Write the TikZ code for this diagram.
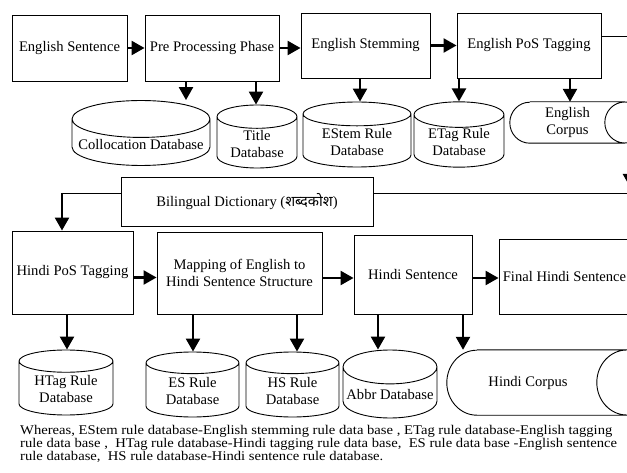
\documentclass[tikz,border=0pt]{standalone}
\usepackage{fontspec}
\setmainfont{Liberation Serif}
\newfontfamily\devfont[Script=Devanagari]{Noto Sans}
\newfontfamily\notefont[FakeStretch=1.1]{Liberation Serif}
\newcommand\notesize{\notefont\fontsize{13.3}{12.6}\selectfont\lineskiplimit=-100pt\relax}
\usetikzlibrary{arrows.meta, positioning, shapes.geometric, calc}

\begin{document}
\begin{tikzpicture}[x=1pt, y=-1pt, >={Triangle[length=13pt, width=14pt]},
    box/.style={draw, line width=0.9pt, fill=white, align=center, inner sep=2pt,
        font=\fontsize{14.6}{17}\selectfont},
    db/.style={draw, line width=0.9pt, fill=white, cylinder, shape border rotate=90,
        anchor=shape center, align=center, inner sep=1pt, font=\fontsize{14.6}{17}\selectfont},
    corpus/.style={align=center, inner sep=0pt, font=\fontsize{14.6}{17}\selectfont},
    arr/.style={->, line width=2.4pt},
    link/.style={line width=0.9pt}]
    \path[use as bounding box, clip] (0,0) rectangle (627,473);

    % English side: processing chain
    \node[box, minimum width=115pt, minimum height=66pt] (esent) at (69.5,48) {English Sentence};
    \node[box, minimum width=134pt, minimum height=66pt] (prep) at (212,48) {Pre Processing Phase};
    \node[box, minimum width=129pt, minimum height=65pt] (stem) at (365.5,45.5) {English Stemming};
    \node[box, minimum width=144pt, minimum height=65pt] (etag) at (529,45.5) {English PoS Tagging};

    % English side: databases (cylinder: width = diameter, height = length)
    \node[db, minimum width=138pt, minimum height=60pt, aspect=0.29] (coll) at (141,133) {Collocation Database};
    \node[db, minimum width=80pt, minimum height=63pt, aspect=0.42] (title) at (257,136.5) {Title\\Database};
    \node[db, minimum width=108pt, minimum height=65pt, aspect=0.33] (estemdb) at (357,134.5) {EStem Rule\\Database};
    \node[db, minimum width=90pt, minimum height=65pt, aspect=0.4] (etagdb) at (459,134.5) {ETag Rule\\Database};

    % English corpus, lying cylinder
    \node[corpus, minimum width=115pt, minimum height=41pt] (ecorp) at (567.5,122.5) {English\\Corpus};
    \draw[link] ([xshift=20pt]ecorp.north west) -- ([xshift=115pt]ecorp.north west)
        ([xshift=115pt]ecorp.west) ellipse [x radius=20pt, y radius=20.5pt]
        ([xshift=115pt]ecorp.south west) -- ([xshift=20pt]ecorp.south west)
        arc[start angle=-90, end angle=-270, x radius=20pt, y radius=20.5pt];

    % dictionary in the middle
    \node[box, minimum width=252pt, minimum height=49pt] (dict) at (247,201.5)
        {Bilingual Dictionary ({\devfont शब्दकोश})};

    % Hindi side: processing chain
    \node[box, minimum width=121pt, minimum height=83pt] (hpos) at (72.5,272.5) {Hindi PoS Tagging};
    \node[box, minimum width=165pt, minimum height=82pt] (map) at (239.5,273)
        {Mapping of English to\\Hindi Sentence Structure};
    \node[box, minimum width=118pt, minimum height=79pt] (hsent) at (413,274.5) {Hindi Sentence};
    \node[box, minimum width=131pt, minimum height=75pt] (fhs) at (564.5,276.5) {Final Hindi Sentence};

    % Hindi side: databases
    \node[db, minimum width=94pt, minimum height=65pt, aspect=0.34] (htagdb) at (66,382.5) {HTag Rule\\Database};
    \node[db, minimum width=93pt, minimum height=65pt, aspect=0.39] (esdb) at (192.5,384.5) {ES Rule\\Database};
    \node[db, minimum width=93pt, minimum height=65pt, aspect=0.39] (hsdb) at (292.5,384.5) {HS Rule\\Database};
    \node[db, minimum width=94pt, minimum height=68pt, aspect=0.38] (abbr) at (390,384) {Abbr Database};

    % Hindi corpus, lying cylinder
    \node[corpus, minimum width=162pt, minimum height=65pt] (hcorp) at (528,382.5) {Hindi Corpus};
    \draw[link] ([xshift=30pt]hcorp.north west) -- ([xshift=180pt]hcorp.north west)
        ([xshift=180pt]hcorp.west) ellipse [x radius=30pt, y radius=32.5pt]
        ([xshift=180pt]hcorp.south west) -- ([xshift=30pt]hcorp.south west)
        arc[start angle=-90, end angle=-270, x radius=30pt, y radius=32.5pt];

    % arrows of the English chain
    \draw[arr] (esent.east) -- (prep.west);
    \draw[arr] (prep.east) -- (prep.east -| stem.west);
    \draw[arr] (stem.east) -- (etag.west);
    \draw[arr] ([xshift=-26pt]prep.south) -- ([xshift=-26pt]prep.south |- coll.north);
    \draw[arr] ([xshift=44pt]prep.south) -- ([xshift=44pt]prep.south |- title.north);
    \draw[arr] ([xshift=-5.5pt]stem.south) -- ([xshift=-5.5pt]stem.south |- estemdb.north);
    \draw[arr] ([xshift=-70pt]etag.south) -- ([xshift=-70pt]etag.south |- etagdb.north);
    \draw[arr] ([xshift=41pt]etag.south) -- ([xshift=41pt]etag.south |- ecorp.north);

    % through the dictionary
    \coordinate (tout) at ([yshift=9.5pt]etag.east);
    \coordinate (rturn) at (630,187);
    \coordinate (dright) at ([yshift=8.5pt]dict.east);
    \coordinate (dleft) at ([yshift=8.5pt]dict.west);
    \coordinate (hin) at ([xshift=-10.5pt]hpos.north);
    \draw[link] (tout) -- (tout -| rturn);
    \draw[arr] (tout -| rturn) -- (rturn);
    \draw[link] (dright) -- (dright -| rturn);
    \draw[link] (dleft) -- (dleft -| hin);
    \draw[arr] (dleft -| hin) -- (hin);

    % arrows of the Hindi chain
    \draw[arr] ([yshift=-5pt]hpos.east) -- ([yshift=-5pt]hpos.east -| map.west);
    \draw[arr] ([yshift=-5pt]map.east) -- ([yshift=-5pt]map.east -| hsent.west);
    \draw[arr] ([yshift=-3.5pt]hsent.east) -- ([yshift=-3.5pt]hsent.east -| fhs.west);
    \draw[arr] ([xshift=-5.5pt]hpos.south) -- ([xshift=-5.5pt]hpos.south |- htagdb.north);
    \draw[arr] ([xshift=-46.5pt]map.south) -- ([xshift=-46.5pt]map.south |- esdb.north);
    \draw[arr] ([xshift=57.5pt]map.south) -- ([xshift=57.5pt]map.south |- hsdb.north);
    \draw[arr] ([xshift=-35pt]hsent.south) -- ([xshift=-35pt]hsent.south |- abbr.north);
    \draw[arr] ([xshift=50pt]hsent.south) -- ([xshift=50pt]hsent.south |- hcorp.north);

    % legend below
    \node[anchor=base west, align=left, inner sep=0pt, font=\notesize] (note) at (20,460)
        {Whereas, EStem rule database-English stemming rule data base , ETag rule database-English tagging\\
         rule data base , \ HTag rule database-Hindi tagging rule data base, \ ES rule data base -English sentence\\
         rule database, \ HS rule database-Hindi sentence rule database.};
\end{tikzpicture}
\end{document}
